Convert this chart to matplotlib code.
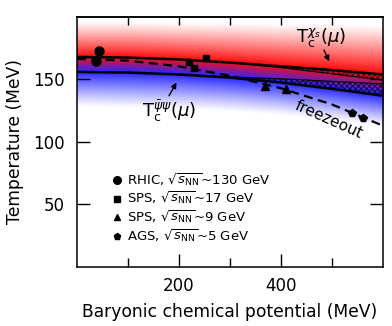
import numpy as np
import matplotlib.pyplot as plt

plt.rcParams['font.family'] = ['DejaVu Sans']
plt.rcParams['mathtext.fontset'] = 'dejavusans'
plt.rcParams['hatch.linewidth'] = 0.6

# curves (mu in MeV, T in MeV)
mu_grid = [0, 100, 200, 300, 400, 500, 600]
chi_hi = [168, 167.5, 166, 163.5, 160.5, 157.5, 154]
chi_lo = [168, 167.5, 166, 163.5, 159.5, 154.5, 149.5]
psi_hi = [156, 155.5, 154, 152, 150.5, 148.5, 146.5]
psi_lo = [156, 155.5, 154, 151.5, 147.5, 142.5, 137]
red_edge = [196, 196, 195, 195, 194, 194, 193]
blue_edge = [128, 127, 126, 124, 121, 117, 112]
freeze_T = [166.5, 165, 160.5, 153, 143, 130, 113]

# freeze-out points
rhic_mu = [43, 38]
rhic_T = [173, 165]
sps17_mu = [220, 230, 254]
sps17_T = [164, 159, 167]
sps9_mu = [369, 410]
sps9_T = [145, 142.5]
ags_mu = [540, 560]
ags_T = [123, 119.5]

legend_markers = ['o', 's', '^', 'p']
legend_labels = [r'RHIC, $\sqrt{s_{\rm NN}}$~130 GeV',
                 r'SPS, $\sqrt{s_{\rm NN}}$~17 GeV',
                 r'SPS, $\sqrt{s_{\rm NN}}$~9 GeV',
                 r'AGS, $\sqrt{s_{\rm NN}}$~5 GeV']

fig = plt.figure(figsize=(3.92, 3.26), dpi=100)
ax = fig.add_axes([0.196, 0.181, 0.781, 0.767])

# colour band background
mm = np.linspace(0, 600, 400)
tt = np.linspace(0, 200, 500)
M, TT = np.meshgrid(mm, tt)
tu = np.interp(M, mu_grid, chi_hi)
tl = np.interp(M, mu_grid, psi_lo)
re = np.interp(M, mu_grid, red_edge)
be = np.interp(M, mu_grid, blue_edge)
red = np.array([1.0, 0.05, 0.05])
blue = np.array([0.15, 0.15, 1.0])
img = np.ones(M.shape + (3,))
# above
d = np.clip((TT - tu) / (re - tu), 0, 1)
a_up = (1 - d) ** 1.1
# below
d2 = np.clip((tl - TT) / (tl - be), 0, 1)
a_dn = (1 - d2) ** 1.1
s = np.clip((TT - tl) / (tu - tl), 0, 1)
for k in range(3):
    c_up = 1 - a_up * (1 - red[k])
    c_dn = 1 - a_dn * (1 - blue[k])
    c_mid = s * red[k] + (1 - s) * blue[k]
    img[..., k] = np.where(TT > tu, c_up, np.where(TT < tl, c_dn, c_mid))
ax.imshow(img, extent=[0, 600, 0, 200], origin='lower', aspect='auto',
          interpolation='bilinear', zorder=0)

# hatched bands
ax.fill_between(mu_grid, chi_lo, chi_hi, facecolor='none', edgecolor='#3a0000',
                hatch='xxxxxx', linewidth=0, zorder=2)
ax.fill_between(mu_grid, psi_lo, psi_hi, facecolor='none', edgecolor='#00003a',
                hatch='xxxxxx', linewidth=0, zorder=2)
ax.plot(mu_grid, chi_hi, color='k', lw=1.8, zorder=3)
ax.plot(mu_grid, chi_lo, color='k', lw=0.8, zorder=3)
ax.plot(mu_grid, psi_hi, color='k', lw=0.8, zorder=3)
ax.plot(mu_grid, psi_lo, color='k', lw=1.8, zorder=3)

# freeze-out curve
ax.plot(mu_grid, freeze_T, color='k', lw=1.6, ls=(0, (4, 2.5)), zorder=3)
ax.plot(rhic_mu, rhic_T, 'o', color='k', ms=6.5, zorder=4, clip_on=False)
ax.plot(sps17_mu, sps17_T, 's', color='k', ms=5, zorder=4)
ax.plot(sps9_mu, sps9_T, '^', color='k', ms=5.5, zorder=4)
ax.plot(ags_mu, ags_T, 'p', color='k', ms=6, zorder=4)

# labels
ax.text(478, 182.5, r'$\mathrm{T}_\mathrm{c}^{\chi_s}(\mu)$', fontsize=13,
        ha='center', va='center')
ax.annotate('', xy=(497, 162.5), xytext=(482, 175.5),
            arrowprops=dict(arrowstyle='-|>', color='k', lw=1, mutation_scale=8))
ax.text(180, 124.5, r'$\mathrm{T}_\mathrm{c}^{\bar\psi\psi}(\mu)$', fontsize=13,
        ha='center', va='center')
ax.annotate('', xy=(198, 149.5), xytext=(178, 135),
            arrowprops=dict(arrowstyle='-|>', color='k', lw=1, mutation_scale=8))
ax.text(494, 118, 'freezeout', fontsize=11, rotation=-24, ha='center', va='center')

# legend
for i in range(4):
    y = 0.348 - 0.075 * i
    ax.plot([0.131], [y], legend_markers[i], color='k', ms=5.5 if i == 0 else 4.5,
            transform=ax.transAxes)
    ax.text(0.163, y, legend_labels[i], fontsize=9.5, va='center',
            transform=ax.transAxes)

ax.set_xlim(0, 600)
ax.set_ylim(0, 200)
ax.set_xticks([200, 400])
ax.set_xticks([100, 300, 500], minor=True)
ax.set_yticks([50, 100, 150])
ax.tick_params(which='major', direction='in', length=9.4, width=1, labelsize=12,
               right=True, pad=7)
ax.tick_params(which='minor', direction='in', length=6.5, width=1)
ax.tick_params(axis='y', pad=9)
top = ax.secondary_xaxis('top')
top.set_xticks([100, 200, 300, 400, 500])
top.tick_params(direction='in', length=5.5, width=1, labeltop=False)
for sp in ax.spines.values():
    sp.set_linewidth(1.1)
top.spines['top'].set_linewidth(1.1)

ax.set_xlabel('Baryonic chemical potential (MeV)', fontsize=12.3, labelpad=6)
ax.set_ylabel('Temperature (MeV)', fontsize=12.3, labelpad=6)

fig.savefig('out.png', dpi=100)
